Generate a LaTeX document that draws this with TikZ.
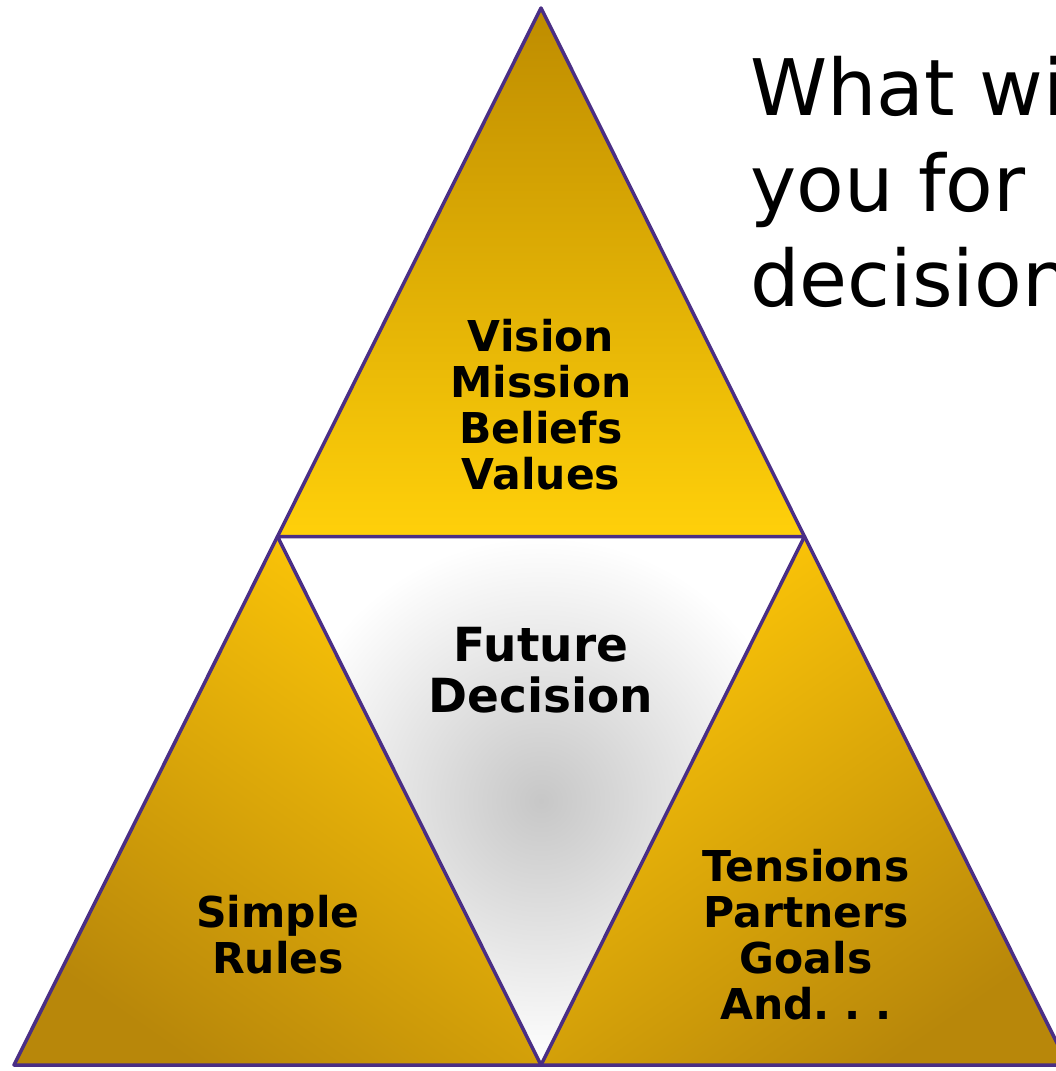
\documentclass[tikz,border=0pt]{standalone}
\usepackage{fontspec}
\setmainfont{DejaVu Sans}
\usetikzlibrary{calc}
\definecolor{rim}{HTML}{4A2E85}
\definecolor{golddark}{HTML}{B8870A}
\definecolor{goldlite}{HTML}{FFC808}
\definecolor{goldtop}{HTML}{BE8C00}
\definecolor{goldbot}{HTML}{FFD00A}
\frenchspacing
\begin{document}
\begin{tikzpicture}[x=1pt,y=-1pt,
    rimline/.style={draw=rim,line width=3.5pt,line join=round},
    lbl/.style={font=\bfseries\fontsize{42.5}{46}\selectfont,align=center,inner sep=0pt},
    ask/.style={font=\fontsize{78}{96}\selectfont,anchor=base west,inner sep=0pt}]
  \clip (0,0) rectangle (1056,1071);
  \fill[white] (0,0) rectangle (1056,1071);
  % corners of the big triangle
  \coordinate (apex) at (541,8);
  \coordinate (bl) at (14,1065);
  \coordinate (br) at (1068,1065);
  \coordinate (ml) at ($(apex)!.5!(bl)$);
  \coordinate (mr) at ($(apex)!.5!(br)$);
  \coordinate (mb) at ($(bl)!.5!(br)$);
  % the four triangles
  \shade[top color=goldtop,bottom color=goldbot] (apex)--(ml)--(mr)--cycle;
  \shade[top color=goldlite,bottom color=golddark,shading angle=-35] (ml)--(bl)--(mb)--cycle;
  \shade[top color=goldlite,bottom color=golddark,shading angle=35] (mr)--(mb)--(br)--cycle;
  \shade[inner color=black!22,outer color=white] (ml)--(mr)--(mb)--cycle;
  \draw[rimline] (apex)--(bl)--(br)--cycle;
  \draw[rimline] (ml)--(mr)--(mb)--cycle;
  % labels
  \node[lbl] (vision) at (541,405) {Vision\\Mission\\Beliefs\\Values};
  \node[lbl,font=\bfseries\fontsize{47}{51}\selectfont] (future) at (541,670) {Future\\Decision};
  \node[lbl] (rules) at (278,935) {Simple\\Rules};
  \node[lbl] (tensions) at (806,935) {Tensions\\Partners\\Goals\\And. . .};
  % question, cut by the page edge
  \node[ask] (ask1) at (750,115) {What wi};
  \node[ask] (ask2) at (750,211) {you for};
  \node[ask] (ask3) at (750,306) {decision};
\end{tikzpicture}
\end{document}
